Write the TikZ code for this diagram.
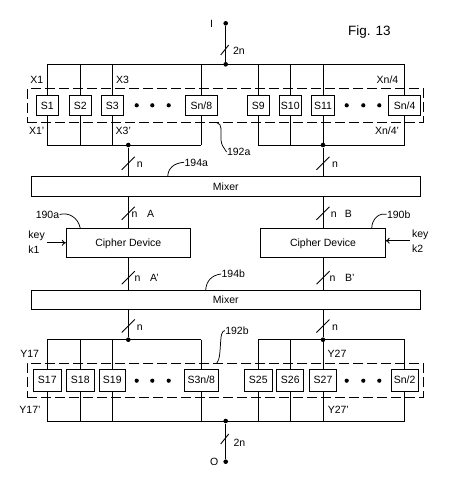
\documentclass[tikz,border=0pt]{standalone}
\usepackage{fontspec}
\setmainfont{Liberation Sans}
\usetikzlibrary{arrows.meta}
\newcommand\lblfont{\fontsize{10.5}{12}\selectfont}
\newcommand\figfont{\fontsize{13.5}{15}\selectfont}
\begin{document}
\begin{tikzpicture}[x=1pt,y=-1pt,line width=0.9pt,
  lbl/.style={font=\lblfont,inner sep=0pt,text height=7.5pt,text depth=0pt},
  sbox/.style={draw,fill=white,font=\lblfont,inner sep=0pt,text height=7.5pt,text depth=0pt,minimum height=19.6pt},
  sboxb/.style={sbox,minimum height=21.7pt},
  grp/.style={draw,dash pattern=on 10pt off 4pt,minimum width=396pt,inner sep=0pt},
  bigbox/.style={draw,fill=white,font=\lblfont,inner sep=0pt,text height=7.5pt,text depth=0pt},
  dot/.style={circle,fill,inner sep=0pt,minimum size=4.6pt},
  edot/.style={circle,fill,inner sep=0pt,minimum size=4.2pt},
  leader/.style={line width=0.75pt},
  keyarrow/.style={-{To[length=4pt,width=6pt]}},
  bmark/.pic={\draw (-4,5) -- (4,-5);},
  bmarkl/.pic={\draw (-6.5,6.5) -- (6.5,-6.5);}
]
\useasboundingbox (0,0) rectangle (453,488);

% ---------- title
\node[font=\figfont,inner sep=0pt] (fig) at (369.5,31.7) {Fig. 13};

% ---------- input
\node[dot] (I) at (225.7,23.3) {};
\node[lbl] (lI) at (211.7,23.3) {I};
\node[dot] (tb) at (225.7,64.3) {};
\draw (I) -- (tb);
\pic at (224.7,50) {bmark};
\node[lbl] (l2na) at (239,50.7) {2n};

% ---------- buses (top group)
\coordinate (tbusL) at (47.3,64.3);
\coordinate (tbusR) at (404.7,64.3);
\coordinate (xbusLl) at (47.3,145);
\coordinate (xbusLr) at (201.3,145);
\coordinate (xbusRl) at (258.3,145);
\coordinate (xbusRr) at (404.7,145);
\draw (tbusL) -- (tbusR);
\draw (xbusLl) -- (xbusLr);
\draw (xbusRl) -- (xbusRr);

\node[grp,minimum height=33.3pt] (g1) at (225.3,105.35) {};

\node[sbox,minimum width=22.3pt] (s1) at (47.3,105.5) {S1};
\node[sbox,minimum width=22.3pt] (s2) at (80.3,105.5) {S2};
\node[sbox,minimum width=22.3pt] (s3) at (112.3,105.5) {S3};
\node[sbox,minimum width=31.7pt] (s4) at (201.3,105.5) {Sn/8};
\node[sbox,minimum width=22.7pt] (s9) at (258.3,105.5) {S9};
\node[sbox,minimum width=22.7pt] (s10) at (290.3,105.5) {S10};
\node[sbox,minimum width=23.7pt] (s11) at (323,105.5) {S11};
\node[sbox,minimum width=31.7pt] (s12) at (404.7,105.5) {Sn/4};
\foreach \b in {s1,s2,s3,s4,s9,s10,s11,s12}{
  \draw (\b.north |- tbusL) -- (\b.north);
  \draw (\b.south) -- (\b.south |- xbusLl);
}
\node[edot] (e1) at (136.7,105.3) {};
\node[edot] (e2) at (152.3,105.3) {};
\node[edot] (e3) at (168.7,105.3) {};
\node[edot] (e4) at (346.7,105.3) {};
\node[edot] (e5) at (363.3,105.3) {};
\node[edot] (e6) at (379.3,105.3) {};

\node[lbl] (lx1) at (36.7,79.3) {X1};
\node[lbl] (lx3) at (122.5,79.3) {X3};
\node[lbl] (lxn) at (387.5,79.3) {Xn/4};
\node[lbl] (lx1p) at (36.7,131) {X1'};
\node[lbl] (lx3p) at (123.3,131) {X3'};
\node[lbl] (lxnp) at (387,131) {Xn/4'};

\node[lbl] (l192a) at (238.7,152) {192a};
\draw[leader] (216.7,122.5) .. controls (223,124) and (220.5,132) .. (221,140)
   .. controls (221.5,146) and (224,147.5) .. (l192a.west);

% ---------- mixer 1
\node[dot] (dA) at (128.3,145) {};
\node[dot] (dB) at (323,145) {};
\node[bigbox,minimum width=389pt,minimum height=19.3pt] (m1) at (225.8,186.35) {Mixer};
\draw (dA) -- (dA |- m1.north);
\draw (dB) -- (dB |- m1.north);
\pic at (128.3,163.3) {bmarkl};
\pic at (323,163.3) {bmarkl};
\node[lbl] (ln1) at (139.7,164) {n};
\node[lbl] (ln2) at (335,164) {n};
\node[lbl] (l194a) at (196.3,162.3) {194a};
\draw[leader] (167.7,176.7) .. controls (168,168) and (174,163) .. (l194a.west);

% ---------- cipher devices
\node[bigbox,minimum width=124pt,minimum height=29pt] (ca) at (128.3,242.8) {Cipher Device};
\node[bigbox,minimum width=124.4pt,minimum height=29pt] (cb) at (323,242.8) {Cipher Device};
\draw (m1.south -| ca.north) -- (ca.north);
\draw (m1.south -| cb.north) -- (cb.north);
\pic at (128.3,213.3) {bmarkl};
\pic at (323,213.3) {bmarkl};
\node[lbl] (ln3) at (134.5,213.3) {n};
\node[lbl] (lA) at (150.7,213.3) {A};
\node[lbl] (ln4) at (333.8,213.3) {n};
\node[lbl] (lB) at (348.3,213.3) {B};

\node[lbl] (l190a) at (47.5,214.5) {190a};
\draw[leader] (l190a.east) .. controls (68,212) and (78,217) .. (80.3,228.3);
\node[lbl] (l190b) at (398.7,214.3) {190b};
\draw[leader] (371.7,228.3) .. controls (372,218) and (380,212.5) .. (l190b.west);

\node[lbl,anchor=west] (lkey1) at (28,234.5) {key};
\node[lbl,anchor=west] (lk1) at (28,249.3) {k1};
\coordinate (k1) at (46.7,242.8);
\draw[keyarrow] (k1) -- (ca.west);
\node[lbl,anchor=west] (lkey2) at (411.7,233.7) {key};
\node[lbl,anchor=west] (lk2) at (411.7,249) {k2};
\coordinate (k2) at (410,240.7);
\draw[keyarrow] (k2) -- (k2 -| cb.east);

% ---------- mixer 2
\node[bigbox,minimum width=389pt,minimum height=19pt] (m2) at (225.8,299.8) {Mixer};
\draw (ca.south) -- (ca.south |- m2.north);
\draw (cb.south) -- (cb.south |- m2.north);
\pic at (128.3,277.7) {bmarkl};
\pic at (323,277.7) {bmarkl};
\node[lbl] (ln5) at (137.5,277.7) {n};
\node[lbl] (lAp) at (154.5,277.7) {A'};
\node[lbl] (ln6) at (332.5,277.7) {n};
\node[lbl] (lBp) at (349.7,277.7) {B'};
\node[lbl] (l194b) at (233.3,274) {194b};
\draw[leader] (205.7,290.3) .. controls (206,281) and (212,275) .. (l194b.west);

% ---------- bottom group
\node[dot] (dC) at (128.3,339.7) {};
\node[dot] (dD) at (323,339.7) {};
\draw (m2.south -| dC) -- (dC);
\draw (m2.south -| dD) -- (dD);
\pic at (128.3,326) {bmarkl};
\pic at (323,326) {bmarkl};
\node[lbl] (ln7) at (139.7,326.7) {n};
\node[lbl] (ln8) at (335,326.7) {n};

\coordinate (ybusLl) at (47.3,339.7);
\coordinate (ybusLr) at (201.3,339.7);
\coordinate (ybusRl) at (258.3,339.7);
\coordinate (ybusRr) at (404.7,339.7);
\coordinate (bbusL) at (47.3,421);
\coordinate (bbusR) at (404.7,421);
\draw (ybusLl) -- (ybusLr);
\draw (ybusRl) -- (ybusRr);
\draw (bbusL) -- (bbusR);

\node[grp,minimum height=34pt] (g2) at (225.3,380.3) {};

\node[sboxb,minimum width=27.4pt] (t1) at (47.3,380.2) {S17};
\node[sboxb,minimum width=27.7pt] (t2) at (80.3,380.2) {S18};
\node[sboxb,minimum width=25.7pt] (t3) at (112.3,380.2) {S19};
\node[sboxb,minimum width=34.4pt] (t4) at (201.3,380.2) {S3n/8};
\node[sboxb,minimum width=27.7pt] (t5) at (258.3,380.2) {S25};
\node[sboxb,minimum width=27pt] (t6) at (290.3,380.2) {S26};
\node[sboxb,minimum width=27pt] (t7) at (323,380.2) {S27};
\node[sboxb,minimum width=27.4pt] (t8) at (404.7,380.2) {Sn/2};
\foreach \b in {t1,t2,t3,t4,t5,t6,t7,t8}{
  \draw (\b.north |- ybusLl) -- (\b.north);
  \draw (\b.south) -- (\b.south |- bbusL);
}
\node[edot] (f1) at (136.7,380.7) {};
\node[edot] (f2) at (152.3,380.7) {};
\node[edot] (f3) at (168.7,380.7) {};
\node[edot] (f4) at (346.7,380.7) {};
\node[edot] (f5) at (363.3,380.7) {};
\node[edot] (f6) at (379.3,380.7) {};

\node[lbl] (ly17) at (29.7,353.3) {Y17};
\node[lbl] (ly27) at (337,353.3) {Y27};
\node[lbl] (ly17p) at (30,409.3) {Y17'};
\node[lbl] (ly27p) at (338.3,409.3) {Y27'};

\node[lbl] (l192b) at (237,330.5) {192b};
\draw[leader] (216.7,363.3) .. controls (220,360) and (220,350) .. (220.7,341)
   .. controls (221,335) and (222,331) .. (l192b.west);

% ---------- output
\node[dot] (bb) at (225.7,421) {};
\node[dot] (O) at (225.7,461.7) {};
\node[lbl] (lO) at (214.3,461.7) {O};
\draw (bb) -- (O);
\pic at (224.7,439) {bmark};
\node[lbl] (l2nb) at (239.5,442.3) {2n};
\end{tikzpicture}
\end{document}
